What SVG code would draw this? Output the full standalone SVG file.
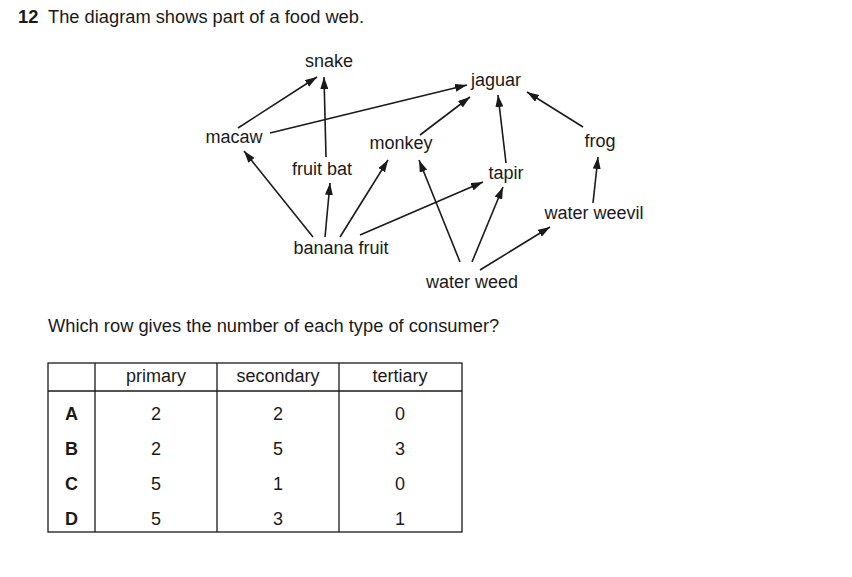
<svg xmlns="http://www.w3.org/2000/svg" width="852" height="577" viewBox="0 0 852 577">
<style>
text{font-family:"Liberation Sans",Arial,sans-serif;font-size:18px;fill:#1a1a1a}
.n{text-anchor:middle}
.b{font-weight:bold}
.p{font-size:18.3px}
.e{stroke:#1a1a1a;stroke-width:1.6;fill:none;marker-end:url(#ah)}
.t{stroke:#1a1a1a;stroke-width:1.3;fill:none}
</style>
<defs>
<marker id="ah" viewBox="0 0 12 8" refX="12" refY="4" markerWidth="12" markerHeight="8" markerUnits="userSpaceOnUse" orient="auto">
<path d="M0,0 L12,4 L0,8 Z" fill="#1a1a1a"/>
</marker>
</defs>
<text x="18" y="23" class="b p">12</text>
<text x="48" y="23" class="p">The diagram shows part of a food web.</text>
<g id="connectors">
<line class="e" x1="238" y1="128" x2="317" y2="77"/>
<line class="e" x1="326" y1="157" x2="324" y2="77"/>
<line class="e" x1="270" y1="133" x2="467" y2="85"/>
<line class="e" x1="313" y1="237" x2="244" y2="151"/>
<line class="e" x1="325" y1="237" x2="330" y2="183"/>
<line class="e" x1="340" y1="237" x2="388" y2="160"/>
<line class="e" x1="360" y1="235" x2="483" y2="182"/>
<line class="e" x1="420" y1="135" x2="470" y2="97"/>
<line class="e" x1="506" y1="163" x2="498" y2="95"/>
<line class="e" x1="583" y1="127" x2="527" y2="92"/>
<line class="e" x1="593" y1="203" x2="598" y2="157"/>
<line class="e" x1="460" y1="262" x2="419" y2="160"/>
<line class="e" x1="472" y1="262" x2="503" y2="187"/>
<line class="e" x1="480" y1="270" x2="550" y2="227"/>
</g>
<g id="snake"><text x="329" y="67" class="n">snake</text></g>
<g id="macaw"><text x="234" y="143" class="n">macaw</text></g>
<g id="fruitbat"><text x="322" y="175" class="n">fruit bat</text></g>
<g id="bananafruit"><text x="341" y="254" class="n">banana fruit</text></g>
<g id="monkey"><text x="401" y="149" class="n">monkey</text></g>
<g id="jaguar"><text x="496" y="86" class="n">jaguar</text></g>
<g id="tapir"><text x="506" y="179" class="n">tapir</text></g>
<g id="frog"><text x="600" y="147" class="n">frog</text></g>
<g id="waterweevil"><text x="594" y="219" class="n">water weevil</text></g>
<g id="waterweed"><text x="472" y="288" class="n">water weed</text></g>
<text x="48" y="332" class="p">Which row gives the number of each type of consumer?</text>
<g id="table">
<rect class="t" x="48" y="363" width="414" height="169"/>
<line class="t" x1="48" y1="391" x2="462" y2="391"/>
<line class="t" x1="95" y1="363" x2="95" y2="532"/>
<line class="t" x1="217" y1="363" x2="217" y2="532"/>
<line class="t" x1="339" y1="363" x2="339" y2="532"/>
<text x="156" y="382" class="n">primary</text>
<text x="278" y="382" class="n">secondary</text>
<text x="400" y="382" class="n">tertiary</text>
<text x="71.5" y="420" class="n b">A</text><text x="156" y="420" class="n">2</text><text x="278" y="420" class="n">2</text><text x="400" y="420" class="n">0</text>
<text x="71.5" y="455" class="n b">B</text><text x="156" y="455" class="n">2</text><text x="278" y="455" class="n">5</text><text x="400" y="455" class="n">3</text>
<text x="71.5" y="490" class="n b">C</text><text x="156" y="490" class="n">5</text><text x="278" y="490" class="n">1</text><text x="400" y="490" class="n">0</text>
<text x="71.5" y="525" class="n b">D</text><text x="156" y="525" class="n">5</text><text x="278" y="525" class="n">3</text><text x="400" y="525" class="n">1</text>
</g>
</svg>
